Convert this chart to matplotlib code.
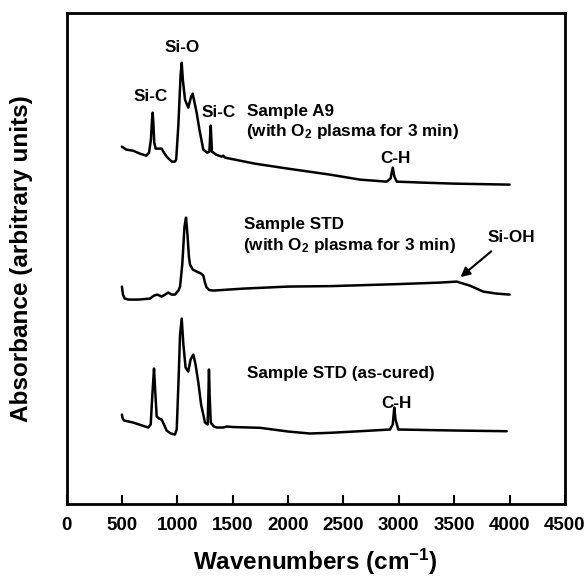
import numpy as np
import matplotlib
matplotlib.use("Agg")
import matplotlib.pyplot as plt

plt.rcParams["font.family"] = ["Liberation Sans", "DejaVu Sans"]
plt.rcParams["font.weight"] = "bold"
plt.rcParams["mathtext.fontset"] = "custom"
plt.rcParams["mathtext.rm"] = "Liberation Sans:bold"
plt.rcParams["mathtext.it"] = "Liberation Sans:bold"
plt.rcParams["mathtext.bf"] = "Liberation Sans:bold"

# ---- data (wavenumber, absorbance in arbitrary units) ----
a9_w = [500, 540, 600, 663, 720, 745, 762, 772, 778, 784, 792, 805, 830, 859, 880, 904,
        950, 979, 990, 1010, 1030, 1040, 1050, 1070, 1099, 1125, 1139, 1160, 1175, 1200,
        1235, 1270, 1290, 1298, 1302, 1306, 1313, 1350, 1400, 1415, 1430, 1476, 1700,
        2000, 2379, 2650, 2890, 2925, 2945, 2960, 2981, 3218, 3500, 4000]
a9_y = [358, 355, 354, 351, 349, 352, 365, 385, 392, 382, 362, 356, 356, 356, 352, 348,
        343, 343, 345, 380, 430, 442, 425, 405, 397, 408, 411, 400, 392, 375,
        355, 352, 353, 372, 379, 370, 353, 350, 348, 349, 347, 346, 341,
        336, 330, 325, 323, 326, 337, 328, 323, 322, 321, 320]

std_o2_w = [500, 510, 525, 560, 650, 754, 790, 820, 859, 890, 919, 950, 979, 1010, 1025,
            1045, 1065, 1079, 1092, 1105, 1115, 1140, 1175, 1215, 1235, 1250, 1265, 1290,
            1325, 1600, 2000, 2400, 3000, 3372, 3522, 3640, 3762, 3880, 4000]
std_o2_y = [218, 210, 206, 205, 205, 206, 209, 210, 208, 210, 212, 210, 210, 214, 218,
            240, 278, 287, 270, 248, 240, 235, 233, 231, 229, 222, 217, 214.5,
            214, 216, 218, 218.5, 220.5, 222, 223, 219, 213, 211, 210]

std_w = [500, 507, 520, 600, 738, 760, 775, 790, 800, 814, 835, 859, 880, 904, 940, 979,
         995, 1010, 1025, 1040, 1055, 1075, 1099, 1120, 1145, 1165, 1190, 1215, 1250,
         1274, 1281, 1286, 1292, 1302, 1330, 1356, 1415, 1446, 1500, 1747, 2000, 2198,
         2379, 2650, 2920, 2945, 2959, 2970, 2995, 3500, 3974]
std_y = [90, 86, 84, 82, 77, 80, 110, 136, 115, 88, 86, 85, 80, 74, 71, 70,
         75, 120, 170, 186, 160, 137, 133, 145, 150, 140, 122, 100, 82,
         80, 110, 135, 110, 82, 78, 77, 77, 78, 77.5, 76.7, 73, 71,
         71.7, 73.3, 75, 80, 97, 85, 75, 74, 73.3]

xticks = [0, 500, 1000, 1500, 2000, 2500, 3000, 3500, 4000, 4500]

fig = plt.figure(figsize=(5.87, 5.78), dpi=100)
ax = fig.add_axes([0.1133, 0.1272, 0.8492, 0.8508])

for w, y in [(a9_w, a9_y), (std_o2_w, std_o2_y), (std_w, std_y)]:
    ax.plot(w, y, color="black", lw=1.8, solid_joinstyle="round", solid_capstyle="round")

ax.set_xlim(0, 4500)
ax.set_ylim(0, 492)
ax.set_xticks(xticks)
ax.set_xticklabels([str(t) for t in xticks], fontsize=13.5, fontweight="bold")
ax.set_yticks([])
ax.tick_params(axis="x", direction="in", length=6.5, width=1.5, pad=9)
for s in ax.spines.values():
    s.set_linewidth(2)

ax.set_xlabel(r"Wavenumbers (cm$^{-1}$)", fontsize=17.5, fontweight="bold")
ax.xaxis.set_label_coords(0.5, -0.086)
ax.set_ylabel("Absorbance (arbitrary units)", fontsize=17.5, fontweight="bold")
ax.yaxis.set_label_coords(-0.0666, 0.5)

fs = 12.3
ax.text(1043, 457, "Si-O", fontsize=fs, ha="center", va="center")
ax.text(763, 408, "Si-C", fontsize=fs, ha="center", va="center")
ax.text(1372, 392, "Si-C", fontsize=fs, ha="center", va="center")
ax.text(1629, 389, "Sample A9", fontsize=fs, ha="left", va="baseline")
ax.text(1620, 369, r"(with O$_2$ plasma for 3 min)", fontsize=fs, ha="left", va="baseline")
ax.text(2965, 342, "C-H", fontsize=fs, ha="center", va="baseline")

ax.text(1602, 275.5, "Sample STD", fontsize=fs, ha="left", va="baseline")
ax.text(1593, 254.5, r"(with O$_2$ plasma for 3 min)", fontsize=fs, ha="left", va="baseline")
ax.text(4012, 263, "Si-OH", fontsize=fs, ha="center", va="baseline")
ax.annotate("", xy=(3537, 225.7), xytext=(3853, 255),
            arrowprops=dict(arrowstyle="-|>", lw=1.5, color="black", mutation_scale=14))

ax.text(1629, 127, "Sample STD (as-cured)", fontsize=fs, ha="left", va="baseline")
ax.text(2974, 97, "C-H", fontsize=fs, ha="center", va="baseline")

fig.savefig("out.png", dpi=100)
